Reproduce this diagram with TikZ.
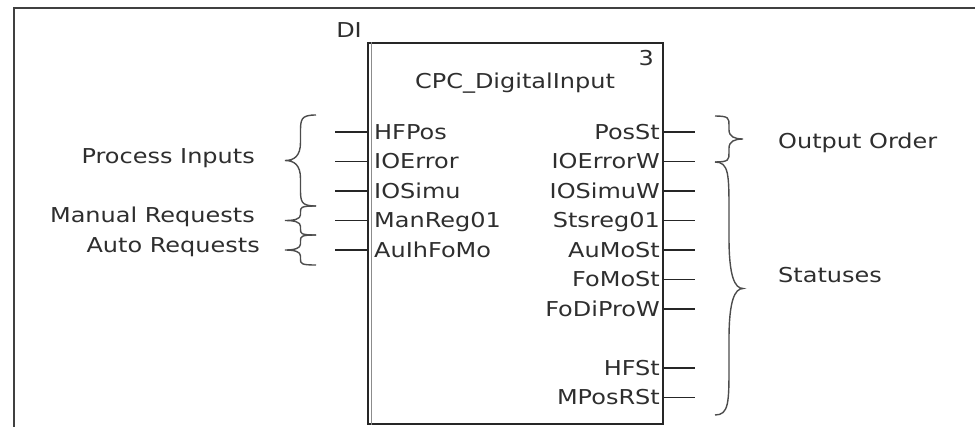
\documentclass[tikz,border=0pt]{standalone}
\usepackage{fontspec}
\setmainfont{DejaVu Sans}[FakeStretch=1.17]
\usepackage{tikz}
\newcommand{\curlybr}[4]{%
  \draw[brc] (#1,#2) .. controls ({#1-0.5*(#4)},#2) and ({#1-0.5*(#4)},{#2+0.05*(#3-#2)}) .. ({#1-0.5*(#4)},{#2+0.2*(#3-#2)})
    -- ({#1-0.5*(#4)},{0.5*(#2+#3)-0.2*(#3-#2)})
    .. controls ({#1-0.5*(#4)},{0.5*(#2+#3)-0.05*(#3-#2)}) and ({#1-0.7*(#4)},{0.5*(#2+#3)}) .. ({#1-(#4)},{0.5*(#2+#3)})
    .. controls ({#1-0.7*(#4)},{0.5*(#2+#3)}) and ({#1-0.5*(#4)},{0.5*(#2+#3)+0.05*(#3-#2)}) .. ({#1-0.5*(#4)},{0.5*(#2+#3)+0.2*(#3-#2)})
    -- ({#1-0.5*(#4)},{#3-0.2*(#3-#2)})
    .. controls ({#1-0.5*(#4)},{#3-0.05*(#3-#2)}) and ({#1-0.5*(#4)},#3) .. (#1,#3);}

\begin{document}
\begin{tikzpicture}[x=1pt, y=-1pt,
    lbl/.style={font=\fontsize{20.5}{24}\selectfont, text=black!82, inner sep=0pt},
    pin/.style={black!85, line width=1.6pt},
    brc/.style={black!70, line width=1.4pt}]
  \useasboundingbox (0,0) rectangle (975,426);
  \draw[black!75, line width=2.6pt] (975,8) -- (14,8) -- (14,427);
  \node[draw, black!85, line width=1.6pt, minimum width=295pt, minimum height=381pt, anchor=north west, inner sep=0pt] (fb) at (367,42) {};
  \draw[black!45, line width=1.2pt] ([xshift=4.5pt]fb.north west) -- ([xshift=4.5pt]fb.south west);
  \node[lbl, anchor=base east] (di) at (362,37) {DI};
  \node[lbl, anchor=base east] (num) at (654,65) {3};
  \node[lbl, anchor=base] (title) at (515,88) {CPC\_DigitalInput};
  \foreach \n [count=\i] in {HFPos, IOError, IOSimu, ManReg01, AuIhFoMo} {
    \node[lbl, anchor=base west] (in\i) at (374, 109.5+29.5*\i) {\n};
    \coordinate (ie\i) at (335, 102.5+29.5*\i);
    \draw[pin] (ie\i) -- (ie\i -| fb.west);
  }
  \foreach \n/\k in {PosSt/1, IOErrorW/2, IOSimuW/3, Stsreg01/4, AuMoSt/5, FoMoSt/6, FoDiProW/7, HFSt/9, MPosRSt/10} {
    \node[lbl, anchor=base east] (out\k) at (660, 109.5+29.5*\k) {\n};
    \coordinate (oe\k) at (695, 102.5+29.5*\k);
    \draw[pin] (oe\k -| fb.east) -- (oe\k);
  }
  \curlybr{316}{115}{206}{31}
  \curlybr{316}{206}{235}{31}
  \curlybr{316}{235}{265}{31}
  \curlybr{715}{116}{162}{-28}
  \curlybr{715}{162}{415}{-28}
  \node[lbl, anchor=base east] (proc) at (255,163) {Process Inputs};
  \node[lbl, anchor=base east] (man) at (255,222) {Manual Requests};
  \node[lbl, anchor=base east] (auto) at (260,252) {Auto Requests};
  \node[lbl, anchor=base west] (order) at (778,148) {Output Order};
  \node[lbl, anchor=base west] (stat) at (778,282) {Statuses};
\end{tikzpicture}
\end{document}
